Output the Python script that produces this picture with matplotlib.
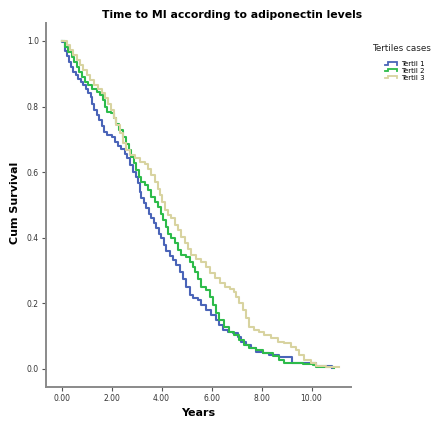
import matplotlib
matplotlib.use("Agg")
import matplotlib.pyplot as plt
from matplotlib.legend_handler import HandlerBase
from matplotlib.lines import Line2D

# Kaplan-Meier curves (years, cumulative survival)
t1_time = [0.00, 0.02, 0.13, 0.22, 0.29, 0.37, 0.46, 0.56, 0.66, 0.77, 0.86, 0.96,
           1.06, 1.16, 1.22, 1.30, 1.40, 1.50, 1.60, 1.70, 1.80, 2.00, 2.13, 2.26,
           2.39, 2.52, 2.62, 2.72, 2.86, 2.96, 3.06, 3.12, 3.19, 3.30, 3.39, 3.49,
           3.59, 3.70, 3.79, 3.89, 3.99, 4.08, 4.19, 4.32, 4.45, 4.59, 4.72, 4.85,
           4.99, 5.12, 5.25, 5.45, 5.58, 5.78, 5.98, 6.18, 6.31, 6.45, 6.65, 6.85,
           7.04, 7.18, 7.38, 7.58, 7.78, 8.04, 8.31, 8.71, 9.11, 9.20, 9.90, 10.17,
           10.83]
t1_surv = [1.000, 0.998, 0.970, 0.955, 0.936, 0.920, 0.906, 0.896, 0.885, 0.875, 0.865, 0.855,
           0.842, 0.829, 0.809, 0.789, 0.773, 0.758, 0.742, 0.722, 0.714, 0.706, 0.691, 0.681,
           0.671, 0.656, 0.642, 0.621, 0.601, 0.586, 0.566, 0.540, 0.520, 0.505, 0.490, 0.474,
           0.459, 0.444, 0.429, 0.413, 0.398, 0.378, 0.360, 0.345, 0.332, 0.317, 0.297, 0.274,
           0.251, 0.225, 0.215, 0.210, 0.195, 0.180, 0.164, 0.149, 0.134, 0.119, 0.114, 0.109,
           0.098, 0.083, 0.073, 0.063, 0.053, 0.048, 0.043, 0.037, 0.036, 0.019, 0.017, 0.009,
           0.002]

t2_time = [0.00, 0.02, 0.13, 0.26, 0.40, 0.50, 0.60, 0.69, 0.80, 0.93, 1.06, 1.22,
           1.40, 1.53, 1.66, 1.75, 1.83, 1.99, 2.10, 2.19, 2.29, 2.46, 2.59, 2.70,
           2.79, 2.90, 2.99, 3.10, 3.19, 3.32, 3.45, 3.59, 3.72, 3.85, 3.96, 4.05,
           4.16, 4.25, 4.39, 4.52, 4.65, 4.79, 4.99, 5.12, 5.25, 5.35, 5.45, 5.58,
           5.78, 5.92, 6.05, 6.18, 6.31, 6.51, 6.71, 6.91, 7.11, 7.31, 7.51, 7.78,
           8.04, 8.44, 8.71, 8.91, 9.64, 10.04, 10.17, 10.63, 10.90]
t2_surv = [1.000, 0.999, 0.982, 0.966, 0.951, 0.936, 0.921, 0.906, 0.890, 0.875, 0.865, 0.855,
           0.845, 0.835, 0.819, 0.799, 0.784, 0.779, 0.764, 0.748, 0.728, 0.708, 0.687, 0.667,
           0.647, 0.627, 0.606, 0.586, 0.571, 0.560, 0.545, 0.525, 0.510, 0.494, 0.474, 0.454,
           0.433, 0.413, 0.398, 0.383, 0.362, 0.347, 0.340, 0.327, 0.312, 0.297, 0.274, 0.251,
           0.241, 0.220, 0.195, 0.170, 0.149, 0.129, 0.114, 0.104, 0.088, 0.073, 0.063, 0.058,
           0.048, 0.040, 0.027, 0.017, 0.015, 0.012, 0.007, 0.005, 0.004]

t3_time = [0.00, 0.02, 0.20, 0.33, 0.46, 0.60, 0.73, 0.86, 1.00, 1.13, 1.30, 1.46,
           1.60, 1.73, 1.86, 1.99, 2.10, 2.19, 2.33, 2.46, 2.59, 2.72, 2.92, 3.12,
           3.32, 3.45, 3.59, 3.72, 3.85, 3.95, 4.03, 4.12, 4.25, 4.39, 4.52, 4.65,
           4.79, 4.92, 5.05, 5.19, 5.39, 5.58, 5.78, 5.95, 6.15, 6.35, 6.55, 6.75,
           6.90, 6.98, 7.11, 7.24, 7.38, 7.51, 7.71, 7.91, 8.11, 8.38, 8.64, 8.91,
           9.17, 9.37, 9.51, 9.71, 9.97, 10.17, 10.57, 11.10]
t3_surv = [1.000, 0.999, 0.987, 0.972, 0.956, 0.941, 0.926, 0.911, 0.896, 0.880, 0.865, 0.855,
           0.840, 0.825, 0.809, 0.789, 0.764, 0.743, 0.720, 0.690, 0.667, 0.652, 0.642, 0.631,
           0.626, 0.611, 0.591, 0.571, 0.550, 0.530, 0.510, 0.484, 0.469, 0.459, 0.439, 0.423,
           0.403, 0.383, 0.365, 0.347, 0.335, 0.327, 0.310, 0.292, 0.276, 0.261, 0.251, 0.243,
           0.235, 0.220, 0.200, 0.180, 0.154, 0.129, 0.119, 0.114, 0.104, 0.094, 0.083, 0.078,
           0.068, 0.058, 0.043, 0.027, 0.017, 0.009, 0.007, 0.005]

labels = ["Tertil 1", "Tertil 2", "Tertil 3"]
colors = ["#4a64b8", "#2dbb4a", "#d8d3a0"]
x_ticks = [0, 2, 4, 6, 8, 10]
y_ticks = [0.0, 0.2, 0.4, 0.6, 0.8, 1.0]


class StepHandler(HandlerBase):
    # little step-shaped legend icon like the SPSS output
    def create_artists(self, legend, orig_handle, xdescent, ydescent,
                       width, height, fontsize, trans):
        x0, y0 = -xdescent, -ydescent
        xs = [x0, x0 + 0.2 * width, x0 + 0.2 * width, x0 + 0.9 * width, x0 + 0.9 * width]
        ys = [y0 + 0.3 * height, y0 + 0.3 * height, y0 + 0.8 * height,
              y0 + 0.8 * height, y0 + 0.3 * height]
        ln = Line2D(xs, ys, color=orig_handle.get_color(), lw=1.3,
                    solid_joinstyle="miter", transform=trans)
        return [ln]


fig = plt.figure(figsize=(4.35, 4.21), dpi=100)
ax = fig.add_axes([0.105, 0.0815, 0.703, 0.864])

lines = []
for tt, ss, lab, col in zip([t1_time, t2_time, t3_time],
                            [t1_surv, t2_surv, t3_surv], labels, colors):
    ln, = ax.step(tt, ss, where="post", color=col, lw=1.5, label=lab)
    lines.append(ln)

ax.set_xlim(-0.64, 11.6)
ax.set_ylim(-0.054, 1.055)
ax.set_xticks(x_ticks)
ax.set_xticklabels(["%.2f" % v for v in x_ticks])
ax.set_yticks(y_ticks)
ax.set_yticklabels(["%.1f" % v for v in y_ticks])

for side in ["top", "right"]:
    ax.spines[side].set_visible(False)
for side in ["left", "bottom"]:
    ax.spines[side].set_color("#8a8a8a")
    ax.spines[side].set_linewidth(1.4)
ax.tick_params(direction="out", length=3, width=0.8, color="#555555",
               labelsize=5.5, labelcolor="#333333", pad=2)

fig.text(0.533, 0.964, "Time to MI according to adiponectin levels",
         fontsize=7.8, fontweight="bold", ha="center", va="center")
ax.set_xlabel("Years", fontsize=8, fontweight="bold")
ax.xaxis.set_label_coords(0.50, -0.058)
ax.set_ylabel("Cum Survival", fontsize=8, fontweight="bold")
ax.yaxis.set_label_coords(-0.084, 0.505)

fig.text(0.855, 0.884, "Tertiles cases", fontsize=6.3, ha="left", va="center",
         color="#222222")
leg = fig.legend(lines, labels, loc="upper left", bbox_to_anchor=(0.878, 0.863),
                 frameon=False, fontsize=5, borderpad=0, handlelength=1.9,
                 handletextpad=0.3, labelspacing=0.1,
                 handler_map={Line2D: StepHandler()})

fig.savefig("out.png", dpi=100)
